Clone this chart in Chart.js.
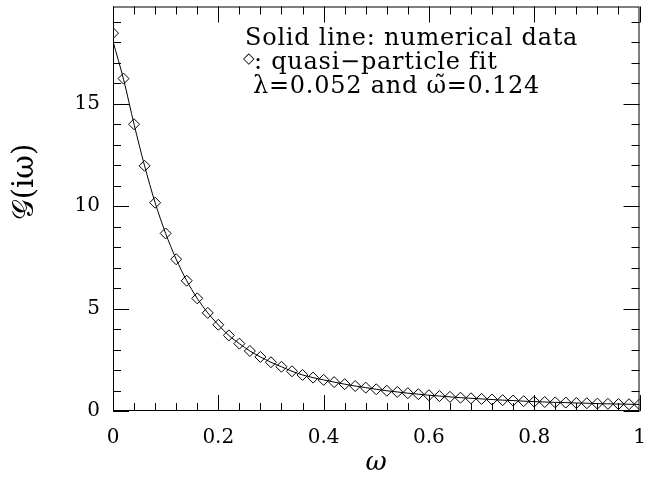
<!DOCTYPE html>
<html>
<head>
<meta charset="utf-8">
<script src="https://cdn.jsdelivr.net/npm/chart.js@4"></script>
<style>
  html, body { margin: 0; padding: 0; background: #fff; }
  #wrap { width: 646px; height: 489px; }
</style>
</head>
<body>
<div id="wrap"><canvas id="greenChart"></canvas></div>
<script>
// Matsubara frequencies (x) and values
const omega = [0, 0.02, 0.04, 0.06, 0.08, 0.10, 0.12, 0.14, 0.16, 0.18,
  0.20, 0.22, 0.24, 0.26, 0.28, 0.30, 0.32, 0.34, 0.36, 0.38,
  0.40, 0.42, 0.44, 0.46, 0.48, 0.50, 0.52, 0.54, 0.56, 0.58,
  0.60, 0.62, 0.64, 0.66, 0.68, 0.70, 0.72, 0.74, 0.76, 0.78,
  0.80, 0.82, 0.84, 0.86, 0.88, 0.90, 0.92, 0.94, 0.96, 0.98, 1.00];

// quasi-particle fit (diamonds)
const fitValues = [18.45, 16.23, 14.0, 11.97, 10.17, 8.67, 7.41, 6.36, 5.50, 4.79,
  4.21, 3.69, 3.29, 2.93, 2.64, 2.38, 2.16, 1.94, 1.76, 1.63,
  1.52, 1.41, 1.31, 1.22, 1.14, 1.06, 0.99, 0.93, 0.87, 0.82,
  0.77, 0.73, 0.69, 0.65, 0.62, 0.59, 0.56, 0.53, 0.51, 0.48,
  0.46, 0.44, 0.42, 0.41, 0.39, 0.38, 0.36, 0.35, 0.34, 0.33, 0.32];

// numerical data (solid line)
const lineValues = [18.05, 16.2, 14.0, 11.97, 10.17, 8.67, 7.41, 6.36, 5.50, 4.79,
  4.21, 3.69, 3.29, 2.93, 2.64, 2.38, 2.16, 1.94, 1.76, 1.63,
  1.52, 1.41, 1.31, 1.22, 1.14, 1.06, 0.99, 0.93, 0.87, 0.82,
  0.77, 0.73, 0.69, 0.65, 0.62, 0.59, 0.56, 0.53, 0.51, 0.48,
  0.46, 0.44, 0.42, 0.41, 0.39, 0.38, 0.36, 0.35, 0.34, 0.33, 0.32];

const xTicks = [0, 0.2, 0.4, 0.6, 0.8, 1];
const yTicks = [0, 5, 10, 15];

const legendLines = [
  "Solid line: numerical data",
  ": quasi\u2212particle fit",
  "\u03BB=0.052 and \u03C9\u0303=0.124"
];

const serif = "'DejaVu Serif', 'Liberation Serif', serif";

// inward ticks on all four sides, frame, titles and note text
const framePlugin = {
  id: "frame",
  afterDraw(chart) {
    const { ctx, chartArea: a, scales } = chart;
    const xs = scales.x, ys = scales.y;
    ctx.save();
    ctx.strokeStyle = "#000";
    ctx.lineWidth = 1;
    ctx.strokeRect(a.left + 0.5, a.top + 0.5, a.right - a.left - 1, a.bottom - a.top - 1);
    ctx.beginPath();
    for (let i = 0; i <= 25; i++) {
      const v = i * 0.04;
      const px = Math.round(xs.getPixelForValue(v)) + 0.5;
      const len = (i % 5 === 0) ? 16 : 8;
      ctx.moveTo(px, a.bottom); ctx.lineTo(px, a.bottom - len);
      ctx.moveTo(px, a.top); ctx.lineTo(px, a.top + len);
    }
    for (let v = 0; v <= ys.max; v += 1) {
      const py = Math.round(ys.getPixelForValue(v)) + 0.5;
      const len = (v % 5 === 0) ? 16 : 8;
      ctx.moveTo(a.left, py); ctx.lineTo(a.left + len, py);
      ctx.moveTo(a.right, py); ctx.lineTo(a.right - len, py);
    }
    ctx.stroke();

    ctx.fillStyle = "#000";
    ctx.textAlign = "left";
    ctx.textBaseline = "alphabetic";
    ctx.font = "24px " + serif;
    ctx.letterSpacing = "0.75px";
    ctx.fillText(legendLines[0], 245, 45);
    ctx.fillText(legendLines[1], 254, 69);
    ctx.fillText(legendLines[2], 253, 93);
    ctx.letterSpacing = "0px";
    ctx.font = "15px " + serif;
    ctx.fillText("\u25C7", 243, 63);

    ctx.font = "italic 26px " + serif;
    ctx.textAlign = "center";
    ctx.textBaseline = "middle";
    ctx.fillText("\u03C9", 376, 463);

    ctx.translate(25, 182);
    ctx.rotate(-Math.PI / 2);
    ctx.font = "29px " + serif;
    ctx.fillText("\uD835\uDCA2(i\u03C9)", 0, 0);
    ctx.restore();
  }
};

const ctx = document.getElementById("greenChart").getContext("2d");

const chart = new Chart(ctx, {
  type: "scatter",
  data: {
    datasets: [
      {
        label: "numerical data",
        data: omega.map((x, i) => ({ x: x, y: lineValues[i] })),
        showLine: true,
        borderColor: "#000",
        borderWidth: 1,
        pointRadius: 0,
        tension: 0.3,
        clip: 0
      },
      {
        label: "quasi-particle fit",
        data: omega.map((x, i) => ({ x: x, y: fitValues[i] })),
        showLine: false,
        pointStyle: "rectRot",
        pointRadius: 5.5,
        pointBorderWidth: 1,
        pointBorderColor: "#000",
        pointBackgroundColor: "rgba(0,0,0,0)",
        clip: 0
      }
    ]
  },
  options: {
    responsive: true,
    maintainAspectRatio: false,
    animation: false,
    layout: { padding: { top: 4, right: 5, left: 0, bottom: 0 } },
    plugins: {
      legend: { display: false },
      tooltip: { enabled: false }
    },
    scales: {
      x: {
        type: "linear",
        min: 0,
        max: 1,
        afterBuildTicks: (s) => { s.ticks = xTicks.map(v => ({ value: v })); },
        afterFit: (s) => { s.height = 78; s.paddingLeft = 0; s.paddingRight = 0; },
        grid: { display: false, drawTicks: false },
        border: { display: false },
        ticks: {
          color: "#000",
          padding: 15,
          maxRotation: 0,
          font: { family: serif, size: 20 },
          callback: (v) => String(v)
        }
      },
      y: {
        type: "linear",
        min: 0,
        max: 19.75,
        afterBuildTicks: (s) => { s.ticks = yTicks.map(v => ({ value: v })); },
        afterFit: (s) => { s.width = 113; s.paddingTop = 0; s.paddingBottom = 0; },
        grid: { display: false, drawTicks: false },
        border: { display: false },
        ticks: {
          color: "#000",
          padding: 13,
          font: { family: serif, size: 20 },
          callback: (v) => String(v)
        }
      }
    }
  },
  plugins: [framePlugin]
});
</script>
</body>
</html>
